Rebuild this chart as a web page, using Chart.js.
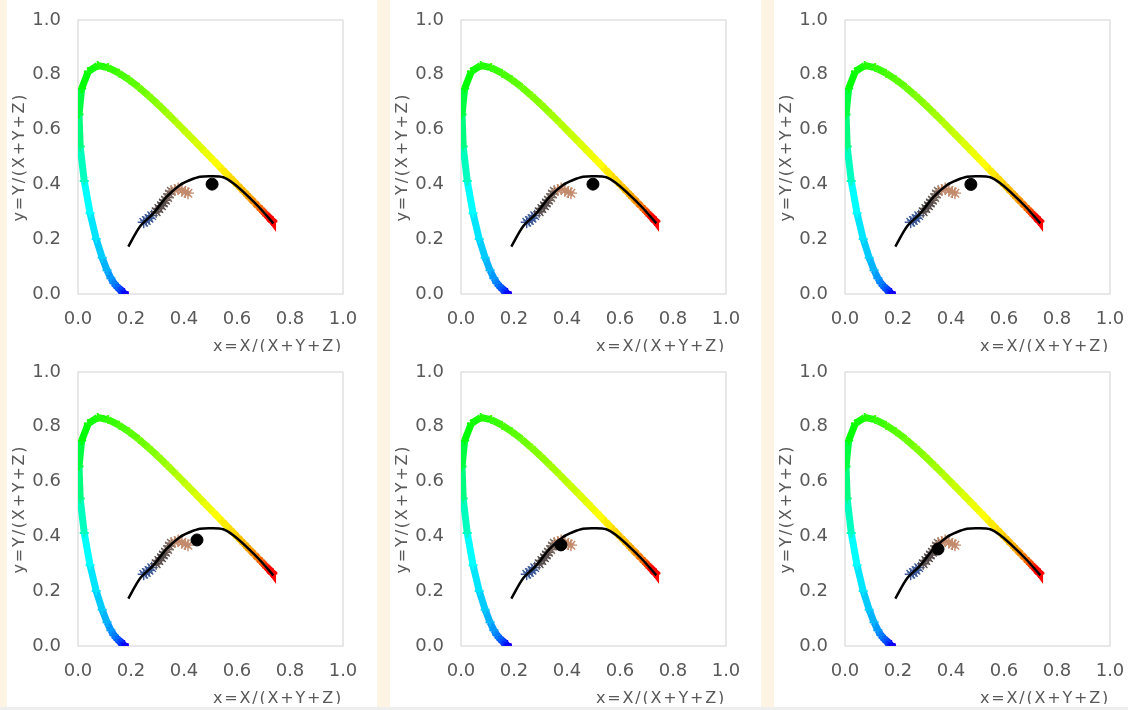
<!DOCTYPE html>
<html>
<head>
<meta charset="utf-8">
<title>CIE 1931 chromaticity panels</title>
<script src="https://cdn.jsdelivr.net/npm/chart.js@4.4.1/dist/chart.umd.min.js"></script>
<style>
    html, body {
        margin: 0;
        padding: 0;
    }
    body {
        width: 1128px;
        height: 710px;
        overflow: hidden;
        position: relative;
        background: #fdf4e3;
    }
    .col {
        position: absolute;
        top: 0;
        height: 707px;
        background: #fff;
        overflow: hidden;
    }
    .col canvas {
        position: absolute;
        left: 0;
    }
    .foot {
        position: absolute;
        left: 0;
        top: 707px;
        width: 1128px;
        height: 3px;
        background: #eeeeee;
    }
</style>
</head>
<body>
<div class="col" style="left:7px;width:370px">
    <canvas id="c0" width="370" height="352" style="top:0"></canvas>
    <canvas id="c3" width="370" height="352" style="top:352px"></canvas>
</div>
<div class="col" style="left:390px;width:371px">
    <canvas id="c1" width="370" height="352" style="top:0"></canvas>
    <canvas id="c4" width="370" height="352" style="top:352px"></canvas>
</div>
<div class="col" style="left:774px;width:354px">
    <canvas id="c2" width="370" height="352" style="top:0"></canvas>
    <canvas id="c5" width="370" height="352" style="top:352px"></canvas>
</div>
<div class="foot"></div>

<script>
'use strict';

// ============================================================================
// Data
// ============================================================================

// CIE 1931 spectral locus, 5 nm steps
const wavelengths = [
    380, 385, 390, 395, 400, 405, 410, 415, 420, 425, 430, 435, 440, 445, 450,
    455, 460, 465, 470, 475, 480, 485, 490, 495, 500, 505, 510, 515, 520, 525,
    530, 535, 540, 545, 550, 555, 560, 565, 570, 575, 580, 585, 590, 595, 600,
    605, 610, 615, 620, 625, 630, 635, 640, 645, 650, 655, 660, 665, 670, 675,
    680, 685, 690, 695, 700
];
const locusX = [
    0.1741, 0.1740, 0.1738, 0.1736, 0.1733, 0.1730, 0.1726, 0.1721, 0.1714, 0.1703,
    0.1689, 0.1669, 0.1644, 0.1611, 0.1566, 0.1510, 0.1440, 0.1355, 0.1241, 0.1096,
    0.0913, 0.0687, 0.0454, 0.0235, 0.0082, 0.0039, 0.0139, 0.0389, 0.0743, 0.1142,
    0.1547, 0.1929, 0.2296, 0.2658, 0.3016, 0.3373, 0.3731, 0.4087, 0.4441, 0.4788,
    0.5125, 0.5448, 0.5752, 0.6029, 0.6270, 0.6482, 0.6658, 0.6801, 0.6915, 0.7006,
    0.7079, 0.7140, 0.7190, 0.7230, 0.7260, 0.7283, 0.7300, 0.7311, 0.7320, 0.7327,
    0.7334, 0.7340, 0.7344, 0.7346, 0.7347
];
const locusY = [
    0.0050, 0.0050, 0.0049, 0.0049, 0.0048, 0.0048, 0.0048, 0.0048, 0.0051, 0.0058,
    0.0069, 0.0086, 0.0109, 0.0138, 0.0177, 0.0227, 0.0297, 0.0399, 0.0578, 0.0868,
    0.1327, 0.2007, 0.2950, 0.4127, 0.5384, 0.6548, 0.7502, 0.8120, 0.8338, 0.8262,
    0.8059, 0.7816, 0.7543, 0.7243, 0.6923, 0.6589, 0.6245, 0.5896, 0.5547, 0.5202,
    0.4866, 0.4544, 0.4242, 0.3965, 0.3725, 0.3514, 0.3340, 0.3197, 0.3083, 0.2993,
    0.2920, 0.2859, 0.2809, 0.2770, 0.2740, 0.2717, 0.2700, 0.2689, 0.2680, 0.2673,
    0.2666, 0.2660, 0.2656, 0.2654, 0.2653
];

// Black-body curve as plotted
const planckX = [0.190, 0.234, 0.284, 0.335, 0.385, 0.423, 0.460, 0.505, 0.548, 0.586, 0.637, 0.687, 0.737];
const planckY = [0.173, 0.246, 0.294, 0.355, 0.398, 0.416, 0.428, 0.430, 0.426, 0.404, 0.361, 0.313, 0.258];

// Sample chromaticities, grouped by marker colour
const coolX = [0.248, 0.258, 0.268, 0.278];
const coolY = [0.262, 0.268, 0.276, 0.286];
const darkX = [0.295, 0.305, 0.315, 0.322, 0.330];
const darkY = [0.300, 0.312, 0.322, 0.332, 0.342];
const midX = [0.338, 0.345, 0.352];
const midY = [0.352, 0.365, 0.375];
const warmX = [0.365, 0.378, 0.392, 0.405, 0.415];
const warmY = [0.380, 0.385, 0.378, 0.372, 0.368];

// Measured point, one per panel
const pointX = [0.506, 0.498, 0.475, 0.449, 0.377, 0.351];
const pointY = [0.401, 0.401, 0.400, 0.387, 0.369, 0.354];

const axisTicks = [0, 0.2, 0.4, 0.6, 0.8, 1.0];

// ============================================================================
// Helpers
// ============================================================================

/**
 * Approximate display colour for a wavelength
 * @param {number} w - wavelength in nm
 * @returns {string}
 */
function wavelengthColor(w) {
    let r = 0, g = 0, b = 0;
    if (w < 440) { r = (440 - w) / 60 * 0.3; b = 1; }
    else if (w < 490) { g = (w - 440) / 50; b = 1; }
    else if (w < 510) { g = 1; b = (510 - w) / 20; }
    else if (w < 580) { r = (w - 510) / 70; g = 1; }
    else if (w < 645) { r = 1; g = (645 - w) / 65; }
    else { r = 1; }
    return `rgb(${Math.round(r * 255)}, ${Math.round(g * 255)}, ${Math.round(b * 255)})`;
}

function toPoints(xs, ys) {
    return xs.map((x, i) => ({ x: x, y: ys[i] }));
}

const locusColors = wavelengths.map(wavelengthColor);

// Light frame round the plot area
const plotFrame = {
    id: 'plotFrame',
    beforeDatasetsDraw(chart) {
        const { ctx, chartArea: a } = chart;
        ctx.save();
        ctx.strokeStyle = '#d9d9d9';
        ctx.lineWidth = 1.2;
        ctx.strokeRect(a.left, a.top, a.right - a.left, a.bottom - a.top);
        ctx.restore();
    }
};

// Axis titles in the original are set a little wide
const spacedTitles = {
    id: 'spacedTitles',
    afterUpdate(chart) {
        Object.values(chart.scales).forEach(scale => {
            if (scale._spaced) return;
            const drawTitle = scale.drawTitle;
            scale.drawTitle = function () {
                const ctx = this.ctx;
                ctx.save();
                ctx.letterSpacing = '1.8px';
                drawTitle.apply(this, arguments);
                ctx.restore();
            };
            scale._spaced = true;
        });
    }
};

// ============================================================================
// Chart Creation
// ============================================================================

function axisOptions(title, isX) {
    return {
        type: 'linear',
        min: 0,
        max: 1,
        afterBuildTicks: scale => {
            scale.ticks = axisTicks.map(v => ({ value: v }));
        },
        afterFit: scale => {
            if (isX) scale.height = 58;
            else scale.width = 71;
            // keep the plot box fixed, labels may overhang it
            scale.paddingTop = 0;
            scale.paddingBottom = 0;
            scale.paddingLeft = 0;
            scale.paddingRight = 0;
        },
        grid: { display: false, drawTicks: false },
        border: { display: false },
        ticks: {
            color: '#595959',
            padding: isX ? 15 : 17,
            font: { family: "'DejaVu Sans', sans-serif", size: 18 },
            maxRotation: 0,
            callback: v => v.toFixed(1)
        },
        title: {
            display: true,
            text: title,
            align: isX ? 'end' : 'center',
            color: '#595959',
            padding: { top: 7, bottom: 0 },
            font: { family: "'DejaVu Sans', sans-serif", size: 16, lineHeight: 0.7 }
        }
    };
}

function starSet(label, points, color) {
    return {
        label: label,
        data: points,
        pointStyle: 'star',
        pointRadius: 6,
        borderWidth: 1.4,
        borderColor: color,
        backgroundColor: color,
        order: 3
    };
}

function createPanel(canvasId, i) {
    const canvas = document.getElementById(canvasId);
    if (!canvas || typeof Chart === 'undefined') return;

    return new Chart(canvas, {
        type: 'scatter',
        data: {
            datasets: [
                {
                    label: 'Point',
                    data: [{ x: pointX[i], y: pointY[i] }],
                    backgroundColor: '#000',
                    borderColor: '#000',
                    pointRadius: 6,
                    order: 1
                },
                {
                    label: 'Planck',
                    data: toPoints(planckX, planckY),
                    showLine: true,
                    borderColor: '#000',
                    borderWidth: 2.5,
                    pointRadius: 0,
                    tension: 0.3,
                    order: 2
                },
                starSet('Warm', toPoints(warmX, warmY), '#c38b6d'),
                starSet('Mid', toPoints(midX, midY), '#7a685f'),
                starSet('Dark', toPoints(darkX, darkY), '#584e4e'),
                starSet('Cool', toPoints(coolX, coolY), '#3d5a96'),
                {
                    label: 'Spectral locus',
                    data: toPoints(locusX, locusY),
                    showLine: true,
                    borderWidth: 7,
                    pointStyle: 'cross',
                    pointRadius: 4.5,
                    pointBorderWidth: 2,
                    pointBorderColor: locusColors,
                    segment: {
                        borderColor: ctx => locusColors[ctx.p0DataIndex]
                    },
                    order: 4
                }
            ]
        },
        options: {
            responsive: false,
            animation: false,
            devicePixelRatio: 1,
            layout: { padding: { top: 20, right: 34, left: 0, bottom: 0 } },
            plugins: {
                legend: { display: false },
                tooltip: { enabled: false }
            },
            scales: {
                x: axisOptions('x=X/(X+Y+Z)', true),
                y: axisOptions('y=Y/(X+Y+Z)', false)
            }
        },
        plugins: [plotFrame, spacedTitles]
    });
}

['c0', 'c1', 'c2', 'c3', 'c4', 'c5'].forEach((id, i) => createPanel(id, i));
</script>
</body>
</html>
